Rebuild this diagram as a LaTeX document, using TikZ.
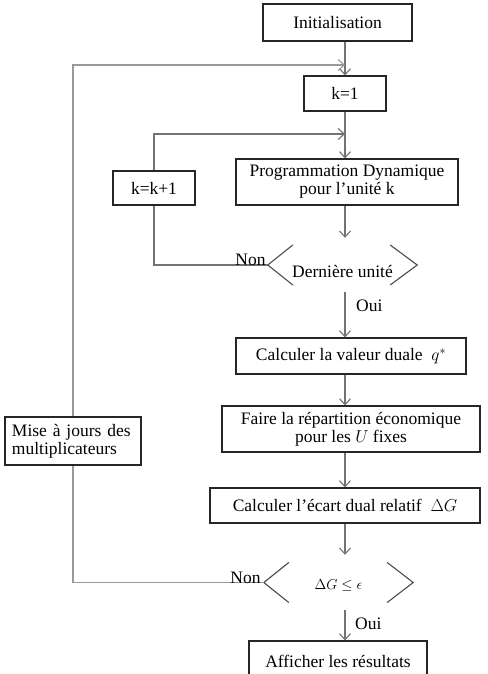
\documentclass[tikz,border=0pt]{standalone}
\usepackage{fontspec}
\setmainfont{Liberation Serif}
\usetikzlibrary{arrows.meta,calc}
\newcommand\figfont{\fontsize{17.5}{18}\selectfont}
\begin{document}
\begin{tikzpicture}[x=1pt,y=-1pt,
  box/.style={draw=black!85,line width=1.1pt,inner sep=0pt,align=center,fill=white,font=\figfont},
  dec/.style={inner sep=0pt,minimum width=149pt},
  chev/.style={draw=black!70,line width=1.1pt},
  conn/.style={draw=black!55,line width=1.2pt},
  arr/.style={conn,-{Straight Barb[length=6pt,width=11pt,line width=1.1pt]}},
  loopline/.style={draw=black!40,line width=1.8pt},
  looparr/.style={loopline,-{Straight Barb[length=6pt,width=11pt,line width=1.1pt]}},
  lbl/.style={inner sep=0pt,font=\figfont}
]
\useasboundingbox (0,0) rectangle (487,674);
\clip (0,0) rectangle (487,674);
\fill[white] (0,0) rectangle (487,674);

\node[box,minimum width=149pt,minimum height=37pt] (init) at (337.5,22.5) {Initialisation};
\node[box,minimum width=82pt,minimum height=35pt] (k1) at (345,93.5) {k=1};
\node[box,minimum width=222pt,minimum height=46pt] (prog) at (347,182) {Programmation Dynamique\\pour l’unité k};
\node[box,minimum width=82pt,minimum height=34pt] (kk) at (154,188) {k=k+1};
\node[dec,minimum height=54pt,font=\figfont] (d1) at (342.5,265) {\raisebox{-6pt}[\height][\depth]{Dernière unité}};
\node[box,minimum width=230pt,minimum height=36pt] (calc) at (351,356) {Calculer la valeur duale ~$q^{*}$};
\node[box,minimum width=258pt,minimum height=46pt] (faire) at (351,429) {Faire la répartition économique\\pour les $U$ fixes};
\node[box,minimum width=136pt,minimum height=48pt,align=left,text width=122pt] (mise) at (73,441) {Mise à jours des\\multiplicateurs};
\node[box,minimum width=270pt,minimum height=35pt] (ecart) at (345,505.5) {Calculer l’écart dual relatif ~$\Delta G$};
\node[dec,minimum height=55pt,font=\fontsize{14}{16}\selectfont] (d2) at (338.5,582.5) {\raisebox{-3pt}[\height][\depth]{$\Delta G \le \epsilon$}};
\node[box,minimum width=178pt,minimum height=40pt] (aff) at (338,661) {Afficher les résultats};

% chevrons of the decisions
\draw[chev] ($(d1.west)+(25,-20)$) -- (d1.west) -- ($(d1.west)+(25,20)$);
\draw[chev] ($(d1.east)+(-27,-20)$) -- (d1.east) -- ($(d1.east)+(-27,20)$);
\draw[chev] ($(d2.west)+(25,-20)$) -- (d2.west) -- ($(d2.west)+(25,20)$);
\draw[chev] ($(d2.east)+(-26,-20)$) -- (d2.east) -- ($(d2.east)+(-26,20)$);

\coordinate (j1) at (345,65);
\coordinate (j2) at (345,134);

% main flow
\draw[arr] (init.south -| k1.north) -- (k1.north);
\draw[arr] (k1.south) -- (k1.south |- prog.north);
\draw[arr] (prog.south -| k1.south) -- (d1.north -| k1.south);
\draw[arr] (d1.south -| k1.south) -- (calc.north -| k1.south);
\draw[arr] (calc.south -| k1.south) -- (faire.north -| k1.south);
\draw[arr] (faire.south -| k1.south) -- (ecart.north -| k1.south);
\draw[arr] (ecart.south -| k1.south) -- (d2.north -| k1.south);
\draw[arr] (d2.south -| k1.south) -- (aff.north -| k1.south);

% inner loop
\draw[conn] (d1.west) -| (kk.south);
\draw[arr] (kk.north) |- (j2);

% outer loop
\draw[loopline] (d2.west) -| (mise.south);
\draw[looparr] (mise.north) |- (j1);

% labels
\node[lbl,anchor=south east] (non1) at ($(d1.west)+(-2,1)$) {Non};
\node[lbl,anchor=south east] (non2) at ($(d2.west)+(-3,1)$) {Non};
\node[lbl,anchor=west] (oui1) at (356,306) {Oui};
\node[lbl,anchor=west] (oui2) at (355,624) {Oui};
\end{tikzpicture}
\end{document}
